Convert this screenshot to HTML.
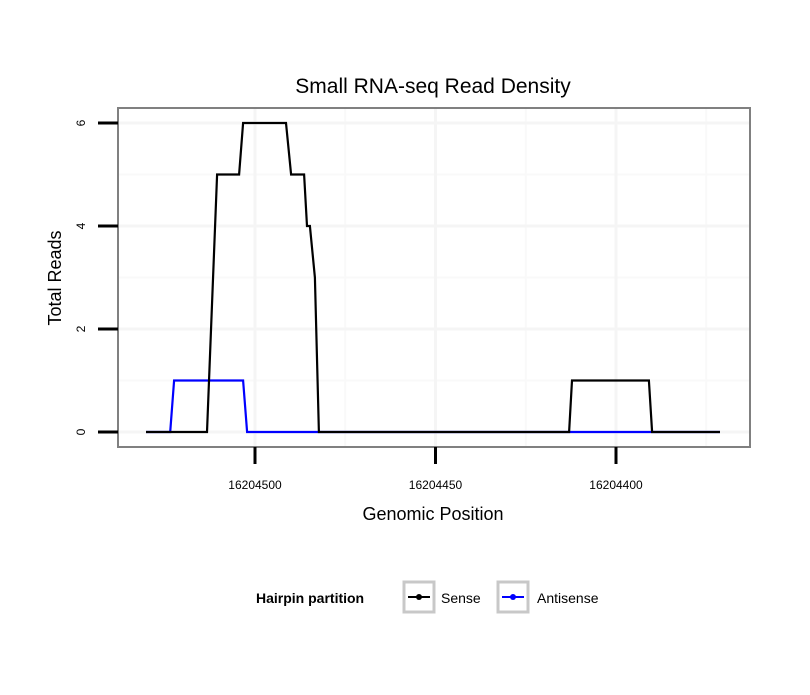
<!DOCTYPE html>
<html><head><meta charset="utf-8"><style>
body{margin:0;background:#fff;font-family:"Liberation Sans",sans-serif}
</style></head><body>
<svg id="chart" width="810" height="690" xmlns="http://www.w3.org/2000/svg" font-family="Liberation Sans, sans-serif">
<rect width="810" height="690" fill="#fff"/>
<text x="433" y="93" font-size="21" text-anchor="middle">Small RNA-seq Read Density</text>
<g id="grid"></g>
<g id="lines"></g>
<rect x="118" y="108" width="632" height="339" fill="none" stroke="#808080" stroke-width="2"/>
<g id="axes"></g>
<text x="433" y="520" font-size="18" text-anchor="middle">Genomic Position</text>
<text transform="translate(61,278) rotate(-90)" font-size="18" text-anchor="middle">Total Reads</text>
<g>
<text x="256" y="603" font-size="14" font-weight="bold">Hairpin partition</text>
<g>
<rect x="404" y="582" width="30" height="30" fill="#fff" stroke="#c8c8c8" stroke-width="3"/>
<line x1="408" y1="597" x2="430" y2="597" stroke="#000" stroke-width="2"/><circle cx="419" cy="597" r="3" fill="#000"/>
<text x="441" y="603" font-size="14">Sense</text></g>
<g>
<rect x="498" y="582" width="30" height="30" fill="#fff" stroke="#c8c8c8" stroke-width="3"/>
<line x1="502" y1="597" x2="524" y2="597" stroke="#00f" stroke-width="2"/><circle cx="513" cy="597" r="3" fill="#00f"/>
<text x="537" y="603" font-size="14">Antisense</text></g>
</g>
</svg>
<script>
const senseX=[16204530.2,16204513.3,16204510.5,16204504.4,16204503.3,16204491.4,16204490,16204486.4,16204485.6,16204484.8,16204483.4,16204482.3,16204413,16204412.2,16204390.9,16204390,16204371.2];
const senseY=[0,0,5,5,6,6,5,5,4,4,3,0,0,1,1,0,0];
const antiX=[16204530.2,16204523.5,16204522.4,16204503.3,16204502.2,16204371.2];
const antiY=[0,0,1,1,0,0];
const xTicks=[16204500,16204450,16204400];
const xMinor=[16204475,16204425,16204375];
const yTicks=[0,2,4,6];
const yMinor=[1,3,5];
const NS="http://www.w3.org/2000/svg";
const xs=v=>255+(16204500-v)*3.61;
const ys=v=>432-v*51.5;
function mk(t,a,p){const e=document.createElementNS(NS,t);for(const k in a)e.setAttribute(k,a[k]);p.appendChild(e);return e;}
const grid=document.getElementById('grid'),axes=document.getElementById('axes'),lines=document.getElementById('lines');
yMinor.forEach(v=>{const l=mk('line',{x1:118,x2:750,y1:ys(v),y2:ys(v),stroke:'#f9f9f9','stroke-width':2},grid);

});
xMinor.forEach(v=>{const l=mk('line',{x1:xs(v),x2:xs(v),y1:108,y2:447,stroke:'#f9f9f9','stroke-width':2},grid);

});
yTicks.forEach(v=>{const l=mk('line',{x1:118,x2:750,y1:ys(v),y2:ys(v),stroke:'#f5f5f5','stroke-width':3},grid);


const t=mk('line',{x1:98,x2:118,y1:ys(v),y2:ys(v),stroke:'#000','stroke-width':3},axes);


const tx=mk('text',{transform:`translate(85,${ys(v)}) rotate(-90)`,'font-size':12,'text-anchor':'middle'},axes);tx.textContent=v;

});
xTicks.forEach(v=>{const l=mk('line',{x1:xs(v),x2:xs(v),y1:108,y2:447,stroke:'#f5f5f5','stroke-width':3},grid);


const t=mk('line',{x1:xs(v),x2:xs(v),y1:447,y2:464,stroke:'#000','stroke-width':3},axes);


const tx=mk('text',{x:xs(v),y:489,'font-size':12,'text-anchor':'middle'},axes);tx.textContent=v;

});
function path(X,Y,c,name){const d=X.map((x,i)=>(i?'L':'M')+xs(x).toFixed(1)+','+ys(Y[i]).toFixed(1)).join('');
const p=mk('path',{d:d,fill:'none',stroke:c,'stroke-width':2.2,'stroke-linejoin':'miter'},lines);

}
path(antiX,antiY,'#00f','antisense-line');
path(senseX,senseY,'#000','sense-line');
</script>
</body></html>
